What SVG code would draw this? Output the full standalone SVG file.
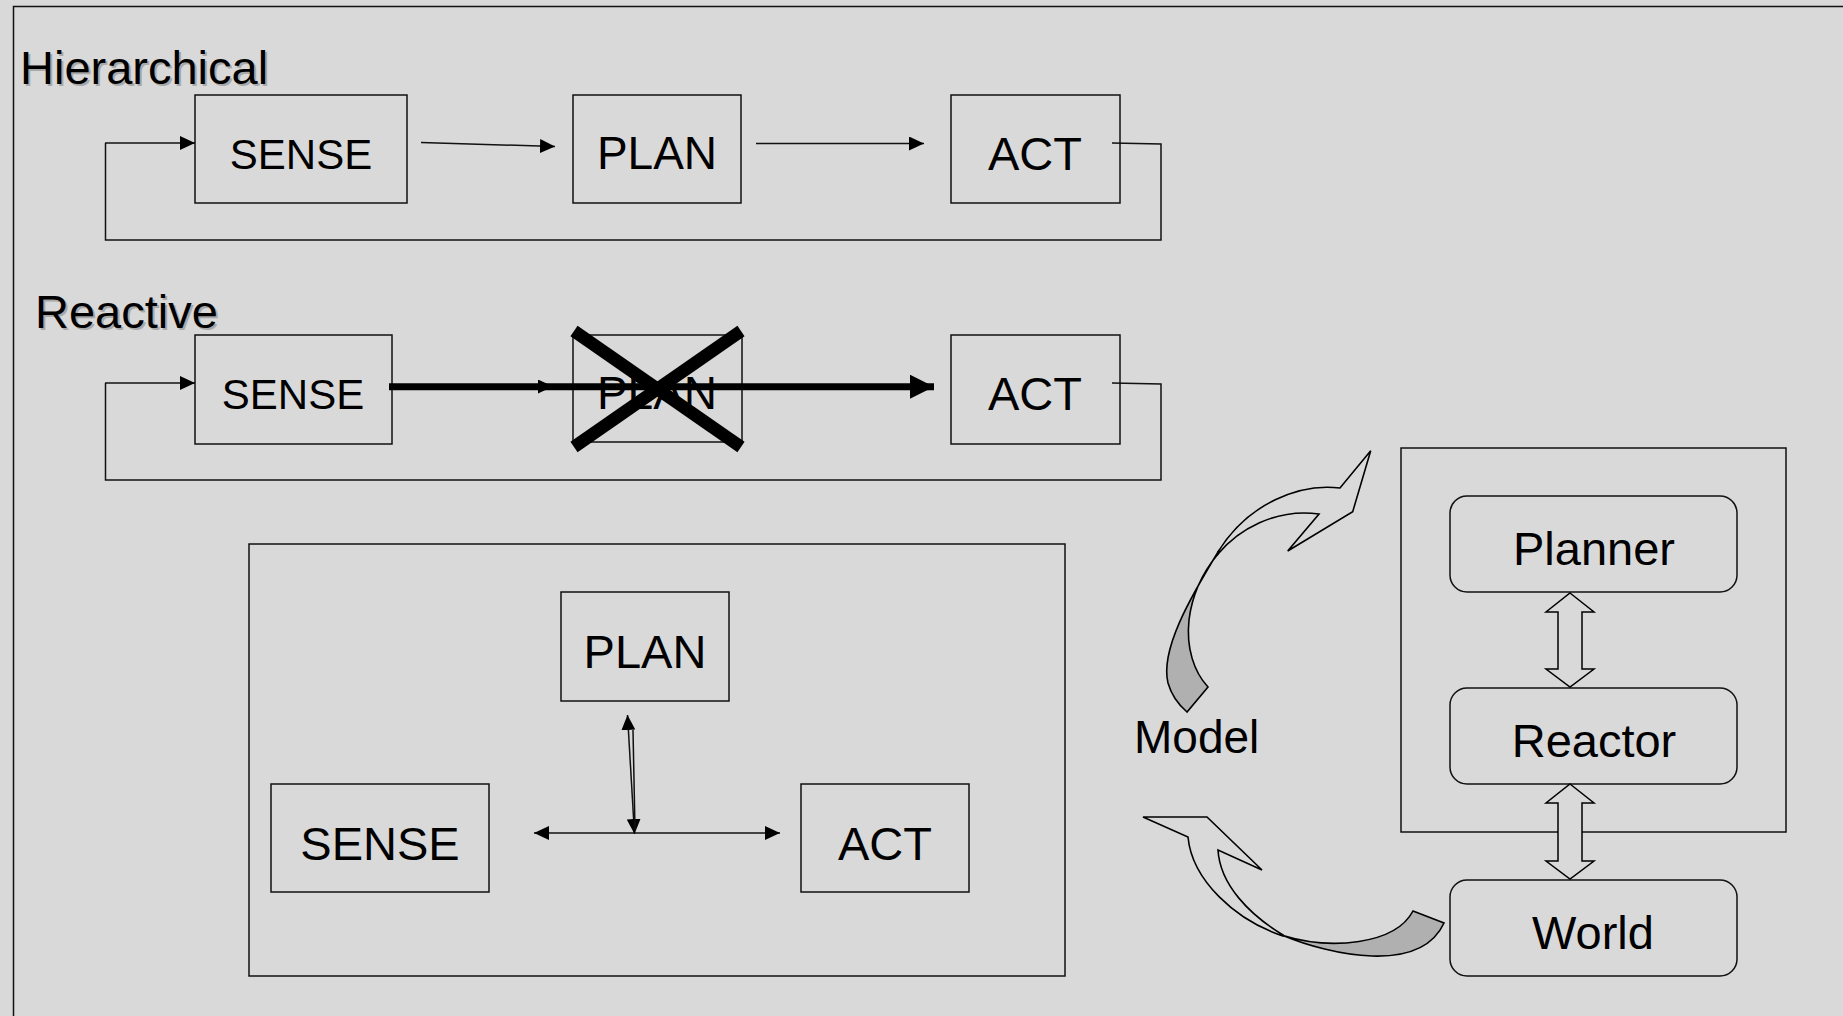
<svg xmlns="http://www.w3.org/2000/svg" width="1843" height="1016" viewBox="0 0 1843 1016">
<defs>
<style>
.bg{fill:#d9d9d9}
.box{fill:none;stroke:#111;stroke-width:1.5}
.rbox{fill:none;stroke:#111;stroke-width:1.5}
.t{font-family:"Liberation Sans",Arial,Helvetica,sans-serif;fill:#000;text-anchor:middle}
.lbl{font-family:"Liberation Sans",Arial,Helvetica,sans-serif;font-size:47px;fill:#000}
.shadow{font-family:"Liberation Sans",Arial,Helvetica,sans-serif;font-size:47px;fill:#a8a8a8}
.ln{fill:none;stroke:#111;stroke-width:1.5}
.thick{fill:none;stroke:#000;stroke-width:7}
.cross{fill:none;stroke:#000;stroke-width:12.5}
.hollow{fill:#d9d9d9;stroke:#000;stroke-width:1.5;stroke-linejoin:miter}
.ribbon{fill:#d9d9d9;stroke:#000;stroke-width:1.6;stroke-linejoin:miter}
.ribbonBack{fill:#b0b0b0;stroke:#000;stroke-width:1.6}
</style>
<marker id="ah" viewBox="0 0 15 14" refX="15" refY="7" markerWidth="15" markerHeight="14" markerUnits="userSpaceOnUse" orient="auto-start-reverse">
<path d="M0,0 L15,7 L0,14 Z" fill="#000"/>
</marker>
<marker id="ahBig" viewBox="0 0 24 24" refX="24" refY="12" markerWidth="24" markerHeight="24" markerUnits="userSpaceOnUse" orient="auto">
<path d="M0,0 L24,12 L0,24 Z" fill="#000"/>
</marker>
</defs>

<rect class="bg" x="0" y="0" width="1843" height="1016"/>
<rect x="13.5" y="6.5" width="1850" height="1030" fill="none" stroke="#111" stroke-width="1.5"/>

<g id="labels">
<text class="shadow" x="22" y="86">Hierarchical</text>
<text class="lbl" x="20" y="84">Hierarchical</text>
<text class="shadow" x="37" y="330">Reactive</text>
<text class="lbl" x="35" y="328">Reactive</text>
<text class="lbl" x="1134" y="753" style="font-size:46px">Model</text>
</g>

<g id="h-sense"><rect class="box" x="195" y="95" width="212" height="108"/><text class="t" x="301" y="169" font-size="42">SENSE</text></g>
<g id="h-plan"><rect class="box" x="573" y="95" width="168" height="108"/><text class="t" x="657" y="169" font-size="46">PLAN</text></g>
<g id="h-act"><rect class="box" x="951" y="95" width="169" height="108"/><text class="t" x="1035" y="170" font-size="47">ACT</text></g>

<g id="r-sense"><rect class="box" x="195" y="335" width="197" height="109"/><text class="t" x="293" y="409" font-size="42">SENSE</text></g>
<g id="r-plan"><rect class="box" x="573" y="335" width="169" height="107"/><text class="t" x="657" y="409" font-size="46">PLAN</text></g>
<g id="r-act"><rect class="box" x="951" y="335" width="169" height="109"/><text class="t" x="1035" y="410" font-size="47">ACT</text></g>

<g id="b-frame"><rect class="box" x="249" y="544" width="816" height="432"/></g>
<g id="b-plan"><rect class="box" x="561" y="592" width="168" height="109"/><text class="t" x="645" y="668" font-size="47">PLAN</text></g>
<g id="b-sense"><rect class="box" x="271" y="784" width="218" height="108"/><text class="t" x="380" y="860" font-size="47">SENSE</text></g>
<g id="b-act"><rect class="box" x="801" y="784" width="168" height="108"/><text class="t" x="885" y="860" font-size="47">ACT</text></g>

<g id="hybrid-frame"><rect class="box" x="1401" y="448" width="385" height="384"/></g>
<g id="planner"><rect class="rbox" x="1450" y="496" width="287" height="96" rx="17"/><text class="t" x="1594" y="565" font-size="47">Planner</text></g>
<g id="reactor"><rect class="rbox" x="1450" y="688" width="287" height="96" rx="17"/><text class="t" x="1594" y="757" font-size="47">Reactor</text></g>
<g id="world"><rect class="rbox" x="1450" y="880" width="287" height="96" rx="17"/><text class="t" x="1593" y="949" font-size="47">World</text></g>

<g id="connectors">
<line class="ln" x1="421" y1="142.5" x2="555" y2="146.5" marker-end="url(#ah)"/>
<line class="ln" x1="756" y1="143.5" x2="924" y2="143.5" marker-end="url(#ah)"/>
<polyline class="ln" points="1112,143 1161,144 1161,240 105.5,240 105.5,143"/>
<line class="ln" x1="105" y1="143" x2="195" y2="143" marker-end="url(#ah)"/>
<line class="ln" x1="392" y1="386.5" x2="553" y2="386.5" marker-end="url(#ah)"/>
<polyline class="ln" points="1112,383 1161,384 1161,480 105.5,480 105.5,383"/>
<line class="ln" x1="105" y1="383" x2="195" y2="383" marker-end="url(#ah)"/>
<line class="cross" x1="574" y1="331" x2="741" y2="447"/>
<line class="cross" x1="741" y1="331" x2="574" y2="447"/>
<line class="thick" x1="389" y1="386.7" x2="934" y2="386.7" marker-end="url(#ahBig)"/>
<line class="ln" x1="534" y1="833" x2="780" y2="833" marker-start="url(#ah)" marker-end="url(#ah)"/>
<line class="ln" x1="634.5" y1="834" x2="627.5" y2="715" marker-start="url(#ah)" marker-end="url(#ah)"/>
<line class="ln" x1="633" y1="730" x2="635" y2="830"/>
<polygon class="hollow" points="1570,593 1594,612 1582,612 1582,669 1594,669 1570,687 1546,669 1558,669 1558,612 1546,612"/>
<polygon class="hollow" points="1570,784 1594,803 1582,803 1582,861 1594,861 1570,879 1546,861 1558,861 1558,803 1546,803"/>
<path class="ribbonBack" d="M1218,552 C1190,598 1160,650 1168,683 C1172,697 1180,706 1187,712 L1208,687 C1194,672 1186,648 1189,620 C1192,595 1203,572 1218,554 Z"/>
<path class="ribbon" d="M1218,552 C1248,503 1300,483 1340,488 L1370.7,450.7 L1352.7,511.7 L1287.7,551 L1319,514 C1275,508 1238,530 1218,554 Z"/>
<path class="ribbonBack" d="M1283,935.5 C1330,955 1420,975 1444,923 L1413,911 C1395,945 1330,950 1283,935.5 Z"/>
<path class="ribbon" d="M1283,936 C1235,920 1192,880 1188,837 L1143,817 L1207,817 L1262,870 L1218,850 C1220,885 1250,915 1283,935 Z"/>
</g>
</svg>
